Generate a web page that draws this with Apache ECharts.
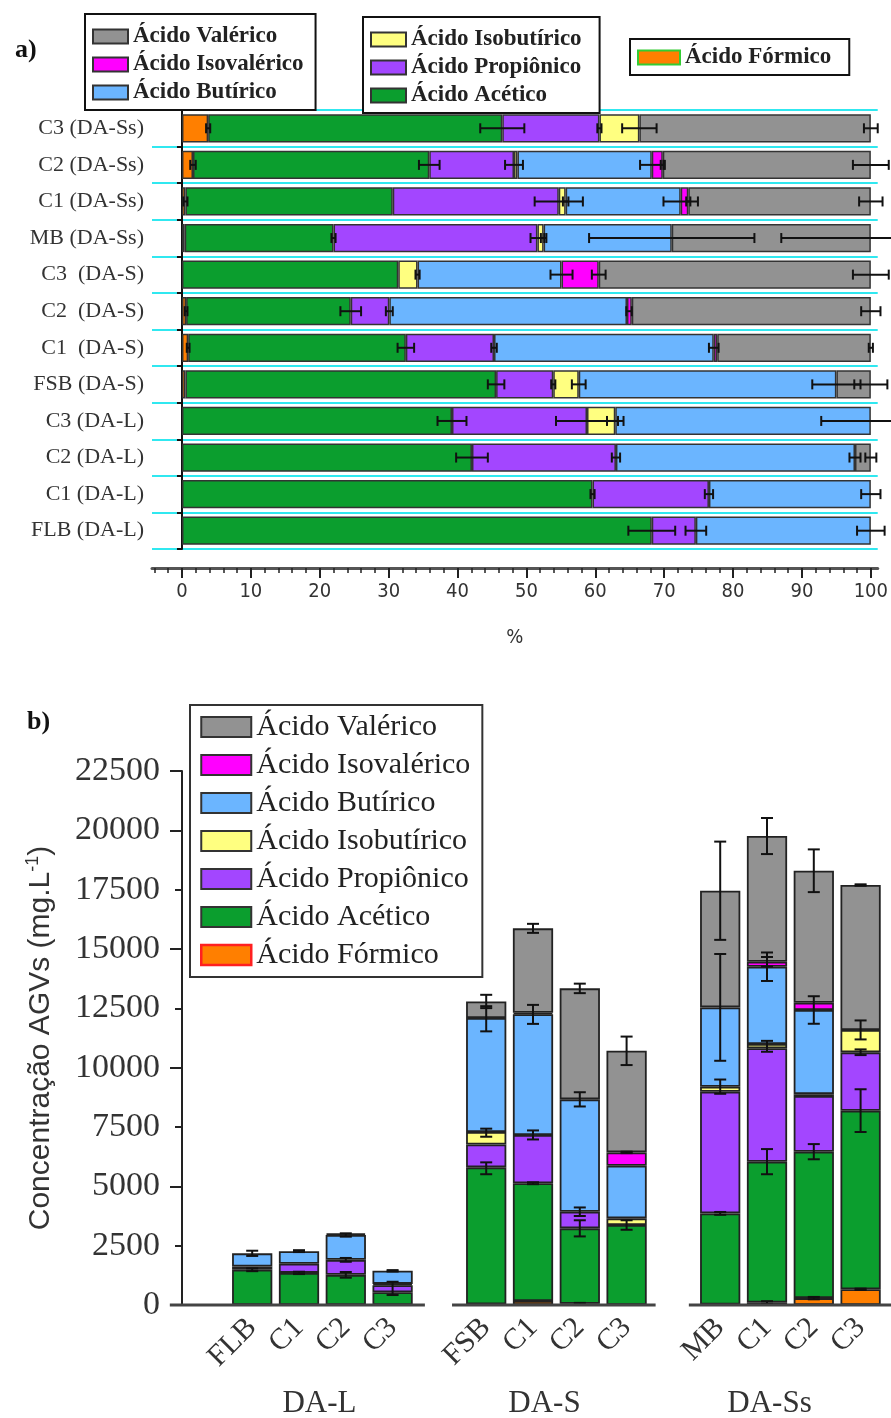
<!DOCTYPE html>
<html><head><meta charset="utf-8">
<script src="https://cdn.jsdelivr.net/npm/echarts@6/dist/echarts.min.js"></script>
<style>html,body{margin:0;padding:0;background:#fff}#c{width:891px;height:1418px}</style>
</head><body><div id="c"></div>
<script>
// ---------- shared ----------
const acidNames = ['Ácido Fórmico','Ácido Acético','Ácido Propiônico','Ácido Isobutírico','Ácido Butírico','Ácido Isovalérico','Ácido Valérico'];
const acidColors = ['#ff7f00','#0b9e2e','#a346ff','#ffff80','#6bb5ff','#ff00ff','#929292'];

// ---------- (a) composition, % ----------
const pctCategories = ['C3 (DA-Ss)','C2 (DA-Ss)','C1 (DA-Ss)','MB (DA-Ss)','C3  (DA-S)','C2  (DA-S)','C1  (DA-S)','FSB (DA-S)','C3 (DA-L)','C2 (DA-L)','C1 (DA-L)','FLB (DA-L)'];
const pctFormico     = [3.8, 1.6, 0.5, 0.4, 0,    0.6, 0.9, 0.5, 0,    0,    0,    0];
const pctAcetico     = [42.7,34.3,30.1,21.6,31.4, 23.9,31.6,45.1,39.2, 42.1, 59.6, 68.2];
const pctPropionico  = [14.1,12.3,24.1,29.6,0,    5.6, 12.8,8.3, 19.6, 20.9, 16.9, 6.4];
const pctIsobutirico = [5.8, 0.5, 1.0, 0.9, 2.8,  0,   0,   3.7, 4.1,  0,    0,    0];
const pctButirico    = [0,   19.5,16.7,18.6,20.9, 34.5,31.9,37.4,37.1, 34.7, 23.5, 25.4];
const pctIsovalerico = [0,   1.6, 1.1, 0,   5.4,  0.7, 0.5, 0,   0,    0,    0,    0];
const pctValerico    = [33.6,30.2,26.5,28.9,39.5, 34.7,22.3,5.0, 0,    2.3,  0,    0];
const pctTicks = [0,10,20,30,40,50,60,70,80,90,100];
const pctMinorTicks = [-4,-2,0,2,4,6,8,10,12,14,16,18,20,22,24,26,28,30,32,34,36,38,40,42,44,46,48,50,52,54,56,58,60,62,64,66,68,70,72,74,76,78,80,82,84,86,88,90,92,94,96,98,100];
// error bars: [segment end %, category index, half-width %]
const pctErrors = [
  [3.8,0,0.3],[46.5,0,3.2],[60.6,0,0.3],[66.4,0,2.5],[100,0,1.0],
  [1.6,1,0.4],[35.9,1,1.5],[48.2,1,1.3],[68.2,1,1.7],[69.8,1,0.3],[100,1,2.6],
  [0.5,2,0.3],[54.7,2,3.5],[55.7,2,0.4],[72.4,2,2.5],[73.5,2,0.3],[100,2,1.7],
  [22.0,3,0.3],[51.6,3,1.0],[52.5,3,0.4],[71.1,3,12],[100,3,13],
  [34.2,4,0.3],[55.1,4,1.6],[60.5,4,1.0],[100,4,2.6],
  [0.6,5,0.2],[24.5,5,1.5],[30.1,5,0.5],[64.9,5,0.4],[100,5,1.4],
  [0.9,6,0.2],[32.5,6,1.2],[45.3,6,0.4],[77.2,6,0.7],[100,6,0.3],
  [45.6,7,1.2],[53.9,7,0.3],[57.6,7,1.0],[95.0,7,3.5],[100,7,2.4],
  [39.2,8,2.1],[58.8,8,4.5],[62.9,8,1.2],[100,8,7.2],
  [42.1,9,2.3],[63.0,9,0.6],[97.7,9,0.8],[100,9,0.8],
  [59.6,10,0.3],[76.5,10,0.6],[100,10,1.4],
  [68.2,11,3.4],[74.6,11,1.5],[100,11,2.0]
];

// ---------- (b) concentration, mg/L ----------
const concSlots = ['', 'FLB','C1','C2','C3', '', 'FSB','C1','C2','C3', '', 'MB','C1','C2','C3'];
const concGroups = ['DA-L','DA-S','DA-Ss'];
const concFormico     = [null, 0,    0,    0,    0,    null, 30,   170,  50,   0,    null, 20,   100,  290,  661];
const concAcetico     = [null, 1485, 1353, 1271, 540,  null, 5770, 4960, 3180, 3370, null, 3840, 5938, 6170, 7525];
const concPropionico  = [null, 139,  384,  631,  290,  null, 960,  2035, 700,  0,    null, 5126, 4777, 2345, 2460];
const concIsobutirico = [null, 0,    0,    0,    60,   null, 530,  0,    0,    280,  null, 210,  181,  80,   940];
const concButirico    = [null, 553,  533,  1048, 550,  null, 4800, 5085, 4735, 2220, null, 3343, 3257, 3543, 0];
const concIsovalerico = [null, 0,    0,    0,    0,    null, 0,    60,   0,    560,  null, 0,    211,  309,  0];
const concValerico    = [null, 0,    0,    69,   0,    null, 700,  3560, 4677, 4280, null, 4914, 5295, 5560, 6109];
// error bars: [slot index, centre mg/L, half-height mg/L]
const concErrors = [
  [1,1485,60],[1,2177,110],
  [2,1353,50],[2,2270,40],
  [3,1271,120],[3,1902,80],[3,2950,70],
  [4,700,280],[4,1440,30],
  [6,5760,250],[6,7260,170],[6,12060,530],[6,12790,280],
  [7,5130,40],[7,7165,190],[7,12245,400],[7,15870,190],
  [8,50,40],[8,3230,340],[8,3930,180],[8,8665,300],[8,13340,200],
  [9,3370,200],[9,6430,30],[9,10710,600],
  [11,3860,60],[11,9200,300],[11,12540,2250],[11,17455,2070],
  [12,100,60],[12,6040,530],[12,10900,230],[12,14253,600],[12,14464,200],[12,19760,760],
  [13,290,50],[13,6460,320],[13,12430,580],[13,18297,900],
  [14,661,30],[14,8190,900],[14,10650,120],[14,11590,400],[14,17695,30]
];
// baseline pieces under each group, in slot units [from, to]
const baselineSlots = [[-0.76,4.69],[5.27,9.62],[10.33,14.8]];

const pctData = [pctFormico,pctAcetico,pctPropionico,pctIsobutirico,pctButirico,pctIsovalerico,pctValerico];
const concData = [concFormico,concAcetico,concPropionico,concIsobutirico,concButirico,concIsovalerico,concValerico];
const nz = a => a.map(v => (v === 0 || v === null) ? '-' : v);

const SERIF = "'Liberation Serif','Times New Roman',serif";
const NARROW = "'Liberation Sans Narrow','DejaVu Sans Condensed','Liberation Sans',sans-serif";

function errH(params, api) {
  const v = api.value(0), c = api.value(1), e = api.value(2);
  const p1 = api.coord([v - e, c]), p2 = api.coord([v + e, c]);
  const h = 5, st = {stroke:'#111', lineWidth:2};
  return {type:'group', children:[
    {type:'line', shape:{x1:p1[0],y1:p1[1],x2:p2[0],y2:p2[1]}, style:st},
    {type:'line', shape:{x1:p1[0],y1:p1[1]-h,x2:p1[0],y2:p1[1]+h}, style:st},
    {type:'line', shape:{x1:p2[0],y1:p2[1]-h,x2:p2[0],y2:p2[1]+h}, style:st}
  ]};
}
function errV(params, api) {
  const s = api.value(0), v = api.value(1), e = api.value(2);
  const p1 = api.coord([s, v - e]), p2 = api.coord([s, v + e]);
  const w = 6, st = {stroke:'#111', lineWidth:2};
  return {type:'group', children:[
    {type:'line', shape:{x1:p1[0],y1:p1[1],x2:p2[0],y2:p2[1]}, style:st},
    {type:'line', shape:{x1:p1[0]-w,y1:p1[1],x2:p1[0]+w,y2:p1[1]}, style:st},
    {type:'line', shape:{x1:p2[0]-w,y1:p2[1],x2:p2[0]+w,y2:p2[1]}, style:st}
  ]};
}
function baseLine(params, api) {
  const a = api.value(2), b = api.value(3);
  const p0 = api.coord([0, 0]);
  const bw = api.size([1, 0])[0];
  return {type:'line', shape:{x1:p0[0]+a*bw, y1:p0[1], x2:p0[0]+b*bw, y2:p0[1]},
          style:{stroke:'#444', lineWidth:3}};
}

const series = [];
acidNames.forEach((n, i) => {
  series.push({type:'bar', name:n, xAxisIndex:0, yAxisIndex:0, stack:'pct',
    barCategoryGap:'23%', data:nz(pctData[i]),
    itemStyle:{color:acidColors[i], borderColor:'#333', borderWidth:1.5}});
});
acidNames.forEach((n, i) => {
  series.push({type:'bar', name:n, xAxisIndex:2, yAxisIndex:1, stack:'conc',
    barCategoryGap:'14%', data:nz(concData[i]),
    itemStyle:{color:acidColors[i], borderColor:'#222', borderWidth:1.8}});
});
series.push({type:'custom', name:'errA', xAxisIndex:0, yAxisIndex:0, renderItem:errH,
  data:pctErrors, encode:{x:0, y:1}, z:5, silent:true});
series.push({type:'custom', name:'errB', xAxisIndex:2, yAxisIndex:1, renderItem:errV,
  data:concErrors, encode:{x:0, y:1}, z:5, silent:true});
series.push({type:'custom', name:'base', xAxisIndex:2, yAxisIndex:1, renderItem:baseLine,
  data:baselineSlots.map(s => [0, 0, s[0], s[1]]), encode:{x:0, y:1}, z:6, silent:true});

const topLegendText = {fontFamily:SERIF, fontSize:23, fontWeight:'bold', color:'#222', lineHeight:21};
const topLegendBase = {orient:'vertical', icon:'rect', itemWidth:35, itemHeight:14, itemGap:5,
  selectedMode:false, borderColor:'#111', borderWidth:2, backgroundColor:'#fff',
  textStyle:topLegendText};

const option = {
  animation:false,
  backgroundColor:'#fff',
  title:[
    {text:'a)', left:10, top:32, textStyle:{fontFamily:SERIF, fontSize:26, fontWeight:'bold', color:'#111'}},
    {text:'b)', left:22, top:704, textStyle:{fontFamily:SERIF, fontSize:26, fontWeight:'bold', color:'#111'}}
  ],
  legend:[
    Object.assign({}, topLegendBase, {left:85, top:14, padding:[11,12,6,7],
      data:['Ácido Valérico','Ácido Isovalérico','Ácido Butírico']}),
    Object.assign({}, topLegendBase, {left:363, top:17, padding:[11,18,6,7],
      data:['Ácido Isobutírico','Ácido Propiônico','Ácido Acético']}),
    Object.assign({}, topLegendBase, {left:630, top:39, padding:[7,18,6,7], itemWidth:42,
      data:[{name:'Ácido Fórmico', itemStyle:{borderColor:'#33cc33', borderWidth:2}}]}),
    {orient:'vertical', icon:'rect', left:190, top:705, itemWidth:50, itemHeight:20, itemGap:8,
      padding:[7,12,7,10], selectedMode:false, borderColor:'#333', borderWidth:2,
      textStyle:{fontFamily:SERIF, fontSize:30, color:'#222', lineHeight:30},
      data:['Ácido Valérico','Ácido Isovalérico','Ácido Butírico','Ácido Isobutírico','Ácido Propiônico','Ácido Acético',
        {name:'Ácido Fórmico', itemStyle:{borderColor:'#ff2020', borderWidth:2.5}}]}
  ],
  grid:[
    {left:152, right:13, top:110, bottom:869},
    {left:182, right:7, top:771, bottom:113},
    {left:207, width:675, top:1384, height:1}
  ],
  xAxis:[
    {gridIndex:0, type:'value', min:-4.35, max:101, position:'bottom', offset:19,
      axisLine:{show:true, onZero:false, lineStyle:{color:'#555', width:3}},
      axisTick:{show:true, customValues:pctTicks, length:10, lineStyle:{color:'#222', width:2}},
      axisLabel:{customValues:pctTicks, margin:14, fontFamily:NARROW, fontSize:20, color:'#333'},
      splitLine:{show:false},
      name:'%', nameLocation:'middle', nameGap:60,
      nameTextStyle:{fontFamily:NARROW, fontSize:20, color:'#333'}},
    {gridIndex:0, type:'value', min:-4.35, max:101, position:'bottom', offset:19,
      axisLine:{show:false, onZero:false},
      axisTick:{show:true, customValues:pctMinorTicks, length:5, lineStyle:{color:'#222', width:1.5}},
      axisLabel:{show:false}, splitLine:{show:false}},
    {gridIndex:1, type:'category', data:concSlots, boundaryGap:true,
      axisLine:{show:false}, axisTick:{show:false},
      axisLabel:{interval:0, rotate:45, margin:18, fontFamily:SERIF, fontSize:30, color:'#333'}},
    {gridIndex:2, type:'category', data:concGroups, boundaryGap:true,
      axisLine:{show:false}, axisTick:{show:false},
      axisLabel:{interval:0, margin:4, fontFamily:SERIF, fontSize:31, color:'#333'}}
  ],
  yAxis:[
    {gridIndex:0, type:'category', data:pctCategories, inverse:true,
      axisLine:{show:true, onZero:true, lineStyle:{color:'#111', width:2}},
      axisTick:{show:true, interval:0, length:5, lineStyle:{color:'#111', width:2}},
      axisLabel:{interval:0, margin:8, fontFamily:SERIF, fontSize:22, color:'#333'},
      splitLine:{show:true, interval:0, lineStyle:{color:'#30e8f0', width:2}}},
    {gridIndex:1, type:'value', min:0, max:22500, interval:2500, position:'left',
      axisLine:{show:true, lineStyle:{color:'#222', width:2}},
      axisTick:{show:true, length:7, lineStyle:{color:'#222', width:2}},
      axisLabel:{margin:22, fontFamily:SERIF, fontSize:34, color:'#333', formatter:v => String(v)},
      splitLine:{show:false},
      name:'Concentração AGVs (mg.L{sup|-1})', nameLocation:'middle', nameGap:124,
      nameTextStyle:{fontFamily:"'Liberation Sans',Arial,sans-serif", fontSize:30, color:'#333', lineHeight:34,
        rich:{sup:{fontFamily:"'Liberation Sans',Arial,sans-serif", fontSize:18, color:'#333', verticalAlign:'top', lineHeight:18}}}},
    {gridIndex:1, type:'value', min:0, max:22500, interval:5000, position:'left',
      axisLine:{show:false}, axisTick:{show:true, length:12, lineStyle:{color:'#222', width:2}},
      axisLabel:{show:false}, splitLine:{show:false}},
    {gridIndex:2, type:'value', show:false}
  ],
  series:series
};
const chart = echarts.init(document.getElementById('c'), null, {renderer:'canvas'});
chart.setOption(option);
</script>
</body></html>
